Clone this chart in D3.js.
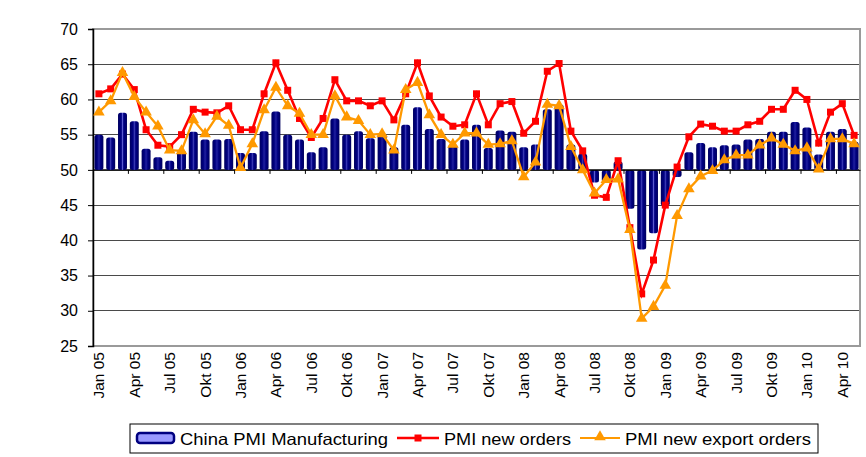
<!DOCTYPE html>
<html><head><meta charset="utf-8">
<script src="https://cdn.jsdelivr.net/npm/d3@7"></script>
<style>body{margin:0;background:#fff}svg{display:block;font-family:"Liberation Sans",Arial,sans-serif}</style>
</head><body><svg id="c" width="866" height="457"></svg>
<script>
const categories = ["Jan 05","Feb 05","Mär 05","Apr 05","Mai 05","Jun 05","Jul 05","Aug 05","Sep 05","Okt 05","Nov 05","Dez 05",
"Jan 06","Feb 06","Mär 06","Apr 06","Mai 06","Jun 06","Jul 06","Aug 06","Sep 06","Okt 06","Nov 06","Dez 06",
"Jan 07","Feb 07","Mär 07","Apr 07","Mai 07","Jun 07","Jul 07","Aug 07","Sep 07","Okt 07","Nov 07","Dez 07",
"Jan 08","Feb 08","Mär 08","Apr 08","Mai 08","Jun 08","Jul 08","Aug 08","Sep 08","Okt 08","Nov 08","Dez 08",
"Jan 09","Feb 09","Mär 09","Apr 09","Mai 09","Jun 09","Jul 09","Aug 09","Sep 09","Okt 09","Nov 09","Dez 09",
"Jan 10","Feb 10","Mär 10","Apr 10","Mai 10"];
const pmiManufacturing = [55.0,54.6,58.1,56.9,53.0,51.8,51.3,52.7,55.4,54.3,54.3,54.4,
52.4,52.4,55.5,58.3,55.0,54.3,52.5,53.2,57.3,55.0,55.5,54.5,
55.1,53.2,56.4,58.9,55.8,54.4,53.6,54.3,56.4,53.1,55.6,55.4,
53.2,53.6,58.6,59.3,53.6,52.3,48.2,48.2,51.2,44.5,38.7,41.0,
44.9,49.0,52.5,53.8,53.2,53.5,53.6,54.3,54.4,55.4,55.4,56.8,
56.0,52.2,55.4,55.8,54.0];
const pmiNewOrders = [60.8,61.5,63.6,61.4,55.7,53.5,53.3,55.0,58.6,58.2,58.1,59.1,
55.7,55.7,60.8,65.2,61.3,57.3,54.6,57.3,62.8,59.8,59.8,59.1,
59.8,57.1,60.8,65.2,60.5,57.5,56.2,56.4,60.8,56.4,59.4,59.7,
55.2,56.9,64.0,65.1,55.5,52.7,46.4,46.1,51.3,41.8,32.4,37.2,
45.0,50.4,54.7,56.5,56.2,55.5,55.5,56.4,56.9,58.6,58.6,61.3,
60.0,53.8,58.2,59.4,54.9];
const pmiNewExportOrders = [58.2,59.8,63.8,60.4,58.2,56.2,52.8,52.7,57.1,55.1,57.6,56.3,
50.3,53.7,58.5,61.7,59.1,58.0,55.0,55.0,60.5,57.5,57.0,55.0,
55.1,52.8,61.4,62.4,57.8,55.0,53.6,55.2,55.2,53.6,53.7,54.1,
49.0,51.1,59.3,59.1,53.3,50.0,46.7,48.6,48.7,41.5,28.9,30.6,
33.6,43.5,47.3,49.1,49.9,51.4,52.1,52.1,53.5,54.5,53.6,52.7,
53.1,50.1,54.4,54.4,53.7];
const yTicks = [25,30,35,40,45,50,55,60,65,70];
const seriesNames = ["China PMI Manufacturing","PMI new orders","PMI new export orders"];

const svg = d3.select("#c");
const L = 93, R = 860, T = 29, B = 346;
const x = d3.scaleBand().domain(categories).range([L, R]).paddingInner(0.24).paddingOuter(0.12);
const xc = d => x(d) + x.bandwidth()/2;
const step = (R - L) / categories.length;
const y = d3.scaleLinear().domain([25,70]).range([B, T]);

const defs = svg.append("defs");
const g = defs.append("linearGradient").attr("id","bar").attr("x1","0").attr("x2","1").attr("y1","0").attr("y2","0");
[["0%","#00005e"],["30%","#000080"],["46%","#1a1a98"],["50%","#5a5ad0"],["54%","#1a1a98"],["70%","#000080"],["100%","#00005e"]]
  .forEach(s => g.append("stop").attr("offset", s[0]).attr("stop-color", s[1]));

// gridlines
svg.append("g").selectAll("line").data(yTicks.filter(t => t > 25 && t < 70)).join("line")
  .attr("x1", L).attr("x2", R).attr("y1", d => y(d)).attr("y2", d => y(d))
  .attr("stroke", "#4a4a4a").attr("stroke-width", 1).attr("shape-rendering","crispEdges");
// plot frame
svg.append("rect").attr("x", L).attr("y", T).attr("width", R - L).attr("height", B - T)
  .attr("fill","none").attr("stroke","#9a9a9a").attr("stroke-width",1.5).attr("shape-rendering","crispEdges");

// y axis
const yAxis = d3.axisLeft(y).tickValues(yTicks).tickSize(5).tickPadding(10);
const ya = svg.append("g").attr("transform", `translate(${L},0)`).call(yAxis);
ya.select(".domain").attr("stroke","#000").attr("stroke-width",1.5);
ya.selectAll(".tick line").attr("stroke","#000");
ya.selectAll("text").attr("font-size","16px").attr("fill","#000").attr("font-family","Liberation Sans, Arial, sans-serif");

// bars
svg.append("g").selectAll("rect").data(pmiManufacturing).join("rect")
  .attr("x", (d,i) => x(categories[i]))
  .attr("width", x.bandwidth())
  .attr("y", d => Math.min(y(d), y(50)))
  .attr("height", d => Math.abs(y(d) - y(50)))
  .attr("rx", 2.5).attr("ry", 2.5)
  .attr("fill", "url(#bar)");

// category axis at 50
const xAxis = d3.axisBottom(x).tickValues([]).tickSize(0);
const xa = svg.append("g").attr("transform", `translate(0,${y(50)})`).call(xAxis);
xa.select(".domain").attr("stroke","#000").attr("stroke-width",1);
svg.append("g").selectAll("line").data(d3.range(3, categories.length, 3)).join("line")
  .attr("x1", k => L + k*step).attr("x2", k => L + k*step)
  .attr("y1", y(50)).attr("y2", y(50) + 4).attr("stroke","#000");

// x labels at bottom
svg.append("g").selectAll("text").data(categories.filter((c,i) => i % 3 === 0)).join("text")
  .attr("transform", d => `translate(${xc(d) + 5.5},${B + 6}) rotate(-90)`)
  .attr("text-anchor","end").attr("font-size","15.5px").attr("fill","#000").text(d => d);

// lines
const line = d3.line().x((d,i) => xc(categories[i])).y(d => y(d));
svg.append("path").datum(pmiNewOrders).attr("d", line).attr("fill","none").attr("stroke","#ff0000").attr("stroke-width",2.6);
svg.append("g").selectAll("rect").data(pmiNewOrders).join("rect")
  .attr("x",(d,i)=>xc(categories[i])-3.5).attr("y",d=>y(d)-3.5).attr("width",7).attr("height",7).attr("fill","#ff0000");
svg.append("path").datum(pmiNewExportOrders).attr("d", line).attr("fill","none").attr("stroke","#ff9900").attr("stroke-width",2.3);
const tri = d3.symbol().type(d3.symbolTriangle).size(58);
svg.append("g").selectAll("path").data(pmiNewExportOrders).join("path")
  .attr("transform",(d,i)=>`translate(${xc(categories[i])},${y(d)})`).attr("d", tri).attr("fill","#ff9900");

// legend
const lg = svg.append("g");
lg.append("rect").attr("x",130).attr("y",424).attr("width",688).attr("height",29).attr("fill","#fff").attr("stroke","#000").attr("stroke-width",1);
lg.append("rect").attr("x",137).attr("y",433).attr("width",37).attr("height",10).attr("rx",3)
  .attr("fill","#9999ff").attr("stroke","#000080").attr("stroke-width",2.5);
lg.append("text").attr("x",180).attr("y",444.5).attr("font-size","16.5px").attr("textLength",208).attr("lengthAdjust","spacingAndGlyphs").text(seriesNames[0]);
lg.append("line").attr("x1",397).attr("x2",439).attr("y1",438).attr("y2",438).attr("stroke","#ff0000").attr("stroke-width",2.5);
lg.append("rect").attr("x",414.5).attr("y",434.5).attr("width",7).attr("height",7).attr("fill","#ff0000");
lg.append("text").attr("x",444).attr("y",444.5).attr("font-size","16.5px").attr("textLength",127).attr("lengthAdjust","spacingAndGlyphs").text(seriesNames[1]);
lg.append("line").attr("x1",580).attr("x2",620).attr("y1",438).attr("y2",438).attr("stroke","#ff9900").attr("stroke-width",2.2);
lg.append("path").attr("transform","translate(600,437)").attr("d",tri).attr("fill","#ff9900");
lg.append("text").attr("x",625).attr("y",444.5).attr("font-size","16.5px").attr("textLength",186).attr("lengthAdjust","spacingAndGlyphs").text(seriesNames[2]);
</script></body></html>
